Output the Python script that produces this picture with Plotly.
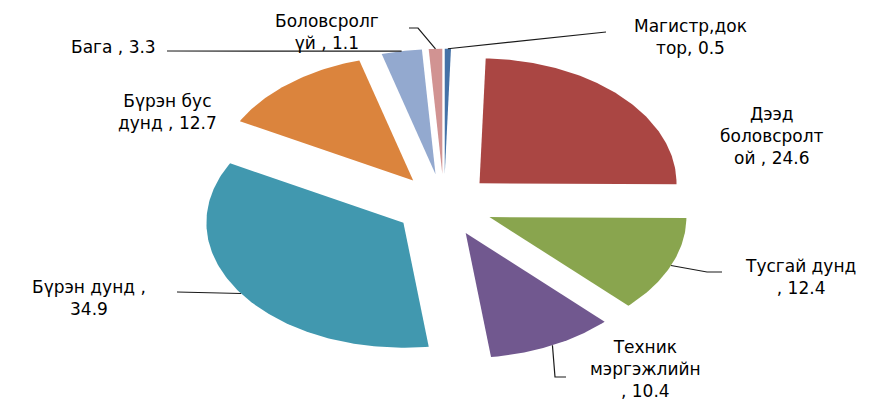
import numpy as np
import plotly.graph_objects as go

# ---- data ----
categories = ["Магистр,доктор", "Дээд боловсролтой", "Тусгай дунд", "Техник мэргэжлийн",
              "Бүрэн дунд", "Бүрэн бус дунд", "Бага", "Боловсролгүй"]
values = [0.5, 24.6, 12.4, 10.4, 34.9, 12.7, 3.3, 1.1]
label_formats = ["Магистр,док<br>тор, {}", "Дээд<br>боловсролт<br>ой , {}", "Тусгай дунд<br>, {}",
                 "Техник<br>мэргэжлийн<br>, {}", "Бүрэн дунд ,<br>{}", "Бүрэн бус<br>дунд , {}",
                 "Бага , {}", "Боловсролг<br>үй , {}"]
colors = ["#4572A7", "#AA4643", "#89A54E", "#71588F", "#4198AF", "#DB843D", "#93A9CF", "#D19392"]

# ---- layout of the (horizontally stretched) exploded pie, in pixels ----
W, H = 875, 400
CX, CY, RX, RY = 444.0, 205.0, 197.0, 125.0
PULL = 0.25

# label centre positions and leader-line bends (pixels)
label_pos = [(690, 37), (772, 136), (800, 277), (645, 369), (89, 298), (167, 112), (158, 47), (327, 32)]
leaders = {0: [(606, 32)], 2: [(707, 272), (722, 272)], 3: [(555, 377), (566, 377)],
           4: [(177, 292)], 6: [(167, 51)], 7: [(418, 28), (409, 28)]}

total = sum(values)
fig = go.Figure()
start = 0.0
anchors = []
for i, v in enumerate(values):
    a0 = start / total * 2 * np.pi
    a1 = (start + v) / total * 2 * np.pi
    am = (a0 + a1) / 2
    ox = PULL * RX * np.sin(am)
    oy = -PULL * RY * np.cos(am)
    th = np.linspace(a0, a1, max(3, int(np.degrees(a1 - a0)) + 2))
    xs = [CX + ox] + list(CX + ox + RX * np.sin(th)) + [CX + ox]
    ys = [CY + oy] + list(CY + oy - RY * np.cos(th)) + [CY + oy]
    fig.add_trace(go.Scatter(x=xs, y=ys, fill="toself", fillcolor=colors[i], mode="lines",
                             line=dict(width=0, color=colors[i]), name=categories[i],
                             hoverinfo="text", text=f"{categories[i]}: {v}", showlegend=False))
    anchors.append((CX + ox + RX * np.sin(am), CY + oy - RY * np.cos(am)))
    start += v

for i, pts in leaders.items():
    path = [anchors[i]] + pts
    fig.add_trace(go.Scatter(x=[p[0] for p in path], y=[p[1] for p in path], mode="lines",
                             line=dict(color="#1a1a1a", width=1.2), hoverinfo="skip", showlegend=False))

for i, v in enumerate(values):
    x, y = label_pos[i]
    xanchor = "right" if i == 6 else "center"
    fig.add_annotation(x=x, y=y, xref="x", yref="y", text=label_formats[i].format(v),
                       showarrow=False, xanchor=xanchor, yanchor="middle", align="center",
                       font=dict(family="DejaVu Sans", size=17, color="#000000"))

fig.update_layout(width=W, height=H, autosize=False, margin=dict(l=0, r=0, t=0, b=0),
                  paper_bgcolor="white", plot_bgcolor="white", showlegend=False,
                  xaxis=dict(range=[0, W], visible=False, fixedrange=True),
                  yaxis=dict(range=[H, 0], visible=False, fixedrange=True))
fig.write_html("out.html", config={"displayModeBar": False},
               post_script="document.body.style.margin='0';document.body.style.overflow='hidden';")
